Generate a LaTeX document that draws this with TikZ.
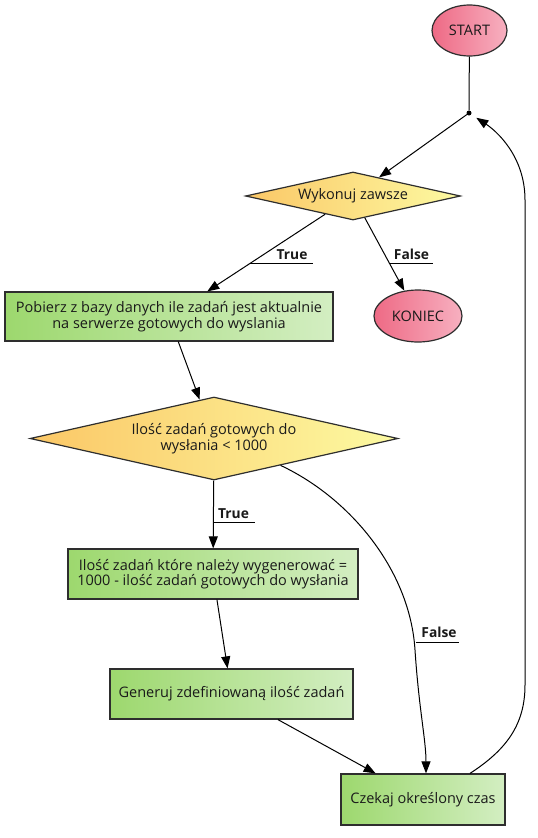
\documentclass[tikz,border=0pt]{standalone}
\usepackage{fontspec}
\setmainfont{Open Sans}
\usetikzlibrary{shapes.geometric,arrows.meta}
\definecolor{bord}{HTML}{2E2E2E}
\definecolor{txt}{HTML}{1A1A1A}
\definecolor{elL}{HTML}{EE6A85}
\definecolor{elR}{HTML}{F7B0C0}
\definecolor{diL}{HTML}{FBC766}
\definecolor{diR}{HTML}{FCFAA2}
\definecolor{bxL}{HTML}{9DD86E}
\definecolor{bxR}{HTML}{D3EEC2}
\tikzset{
  base/.style={draw=bord, line width=1.2pt, text=txt, font=\fontsize{14.5}{15.5}\selectfont, align=center, inner sep=0pt},
  term/.style={base, ellipse, left color=elL, right color=elR},
  decis/.style={base, diamond, left color=diL, right color=diR},
  proc/.style={base, rectangle, left color=bxL, right color=bxR},
  junc/.style={circle, fill=black, inner sep=0pt, minimum size=5pt},
  arr/.style={draw=black, line width=1pt, -{Triangle[length=12pt,width=9pt]}},
  plain/.style={draw=black, line width=1pt},
  lbl/.style={font=\bfseries\fontsize{13.8}{15}\selectfont, text=txt, inner sep=0pt, anchor=base},
  uline/.style={draw=black, line width=1pt}
}
\begin{document}
\begin{tikzpicture}[x=1pt,y=-1pt]
\useasboundingbox (0,0) rectangle (538,838);

\node[term, minimum width=75pt, minimum height=51pt] (s) at (469.5,30.5) {START};
\node[junc] (j) at (469,113) {};
\node[decis, minimum width=215pt, minimum height=48pt, aspect=4.48] (w) at (353,196) {Wykonuj zawsze};
\node[term, minimum width=88pt, minimum height=52pt] (k) at (418,316) {KONIEC};
\node[proc, minimum width=328pt, minimum height=49pt] (p) at (169,316.5) {Pobierz z bazy danych ile zadań jest aktualnie\\na serwerze gotowych do wyslania};
\node[decis, minimum width=368pt, minimum height=83pt, aspect=4.43] (d) at (214,438.5) {Ilość zadań gotowych do\\wysłania < 1000};
\node[proc, minimum width=290pt, minimum height=50pt] (b3) at (213,574) {Ilość zadań które należy wygenerować =\\1000 - ilość zadań gotowych do wysłania};
\node[proc, minimum width=243pt, minimum height=50pt] (b4) at (231.5,694) {Generuj zdefiniowaną ilość zadań};
\node[proc, minimum width=164pt, minimum height=51pt] (c) at (423,799.5) {Czekaj określony czas};

\draw[plain] (s) -- (j);
\draw[arr] (j) -- (w);
\draw[arr] (w) -- (p);
\draw[arr] (w) -- (k);
\draw[arr] (p) -- (d);
\draw[arr] (d) -- (b3);
\draw[arr] (b3) -- (b4);
\draw[arr] (b4) -- (c);
\draw[arr] (d.-22) .. controls (350,498) and (410,570) .. (415,650)
   .. controls (419,710) and (426,740) .. ([xshift=3pt]c.north);
\draw[arr, shorten >=6pt] ([xshift=47pt]c.north) .. controls (506,750) and (525,725) .. (525,685)
   -- (525,200) .. controls (525,155) and (495,130) .. (j);

% edge labels
\node[lbl] (t1) at (292,259) {True};
\coordinate (t1a) at (250,263);
\draw[uline] (t1a) -- (313,263);
\node[lbl] (f1) at (411.5,259) {False};
\coordinate (f1a) at (390,263);
\draw[uline] (f1a) -- (433,263);
\node[lbl] (t2) at (233.5,518) {True};
\coordinate (t2a) at (214,522);
\draw[uline] (t2a) -- (255,522);
\node[lbl] (f2) at (439,637) {False};
\coordinate (f2a) at (416,642);
\draw[uline] (f2a) -- (459,642);
\end{tikzpicture}
\end{document}
